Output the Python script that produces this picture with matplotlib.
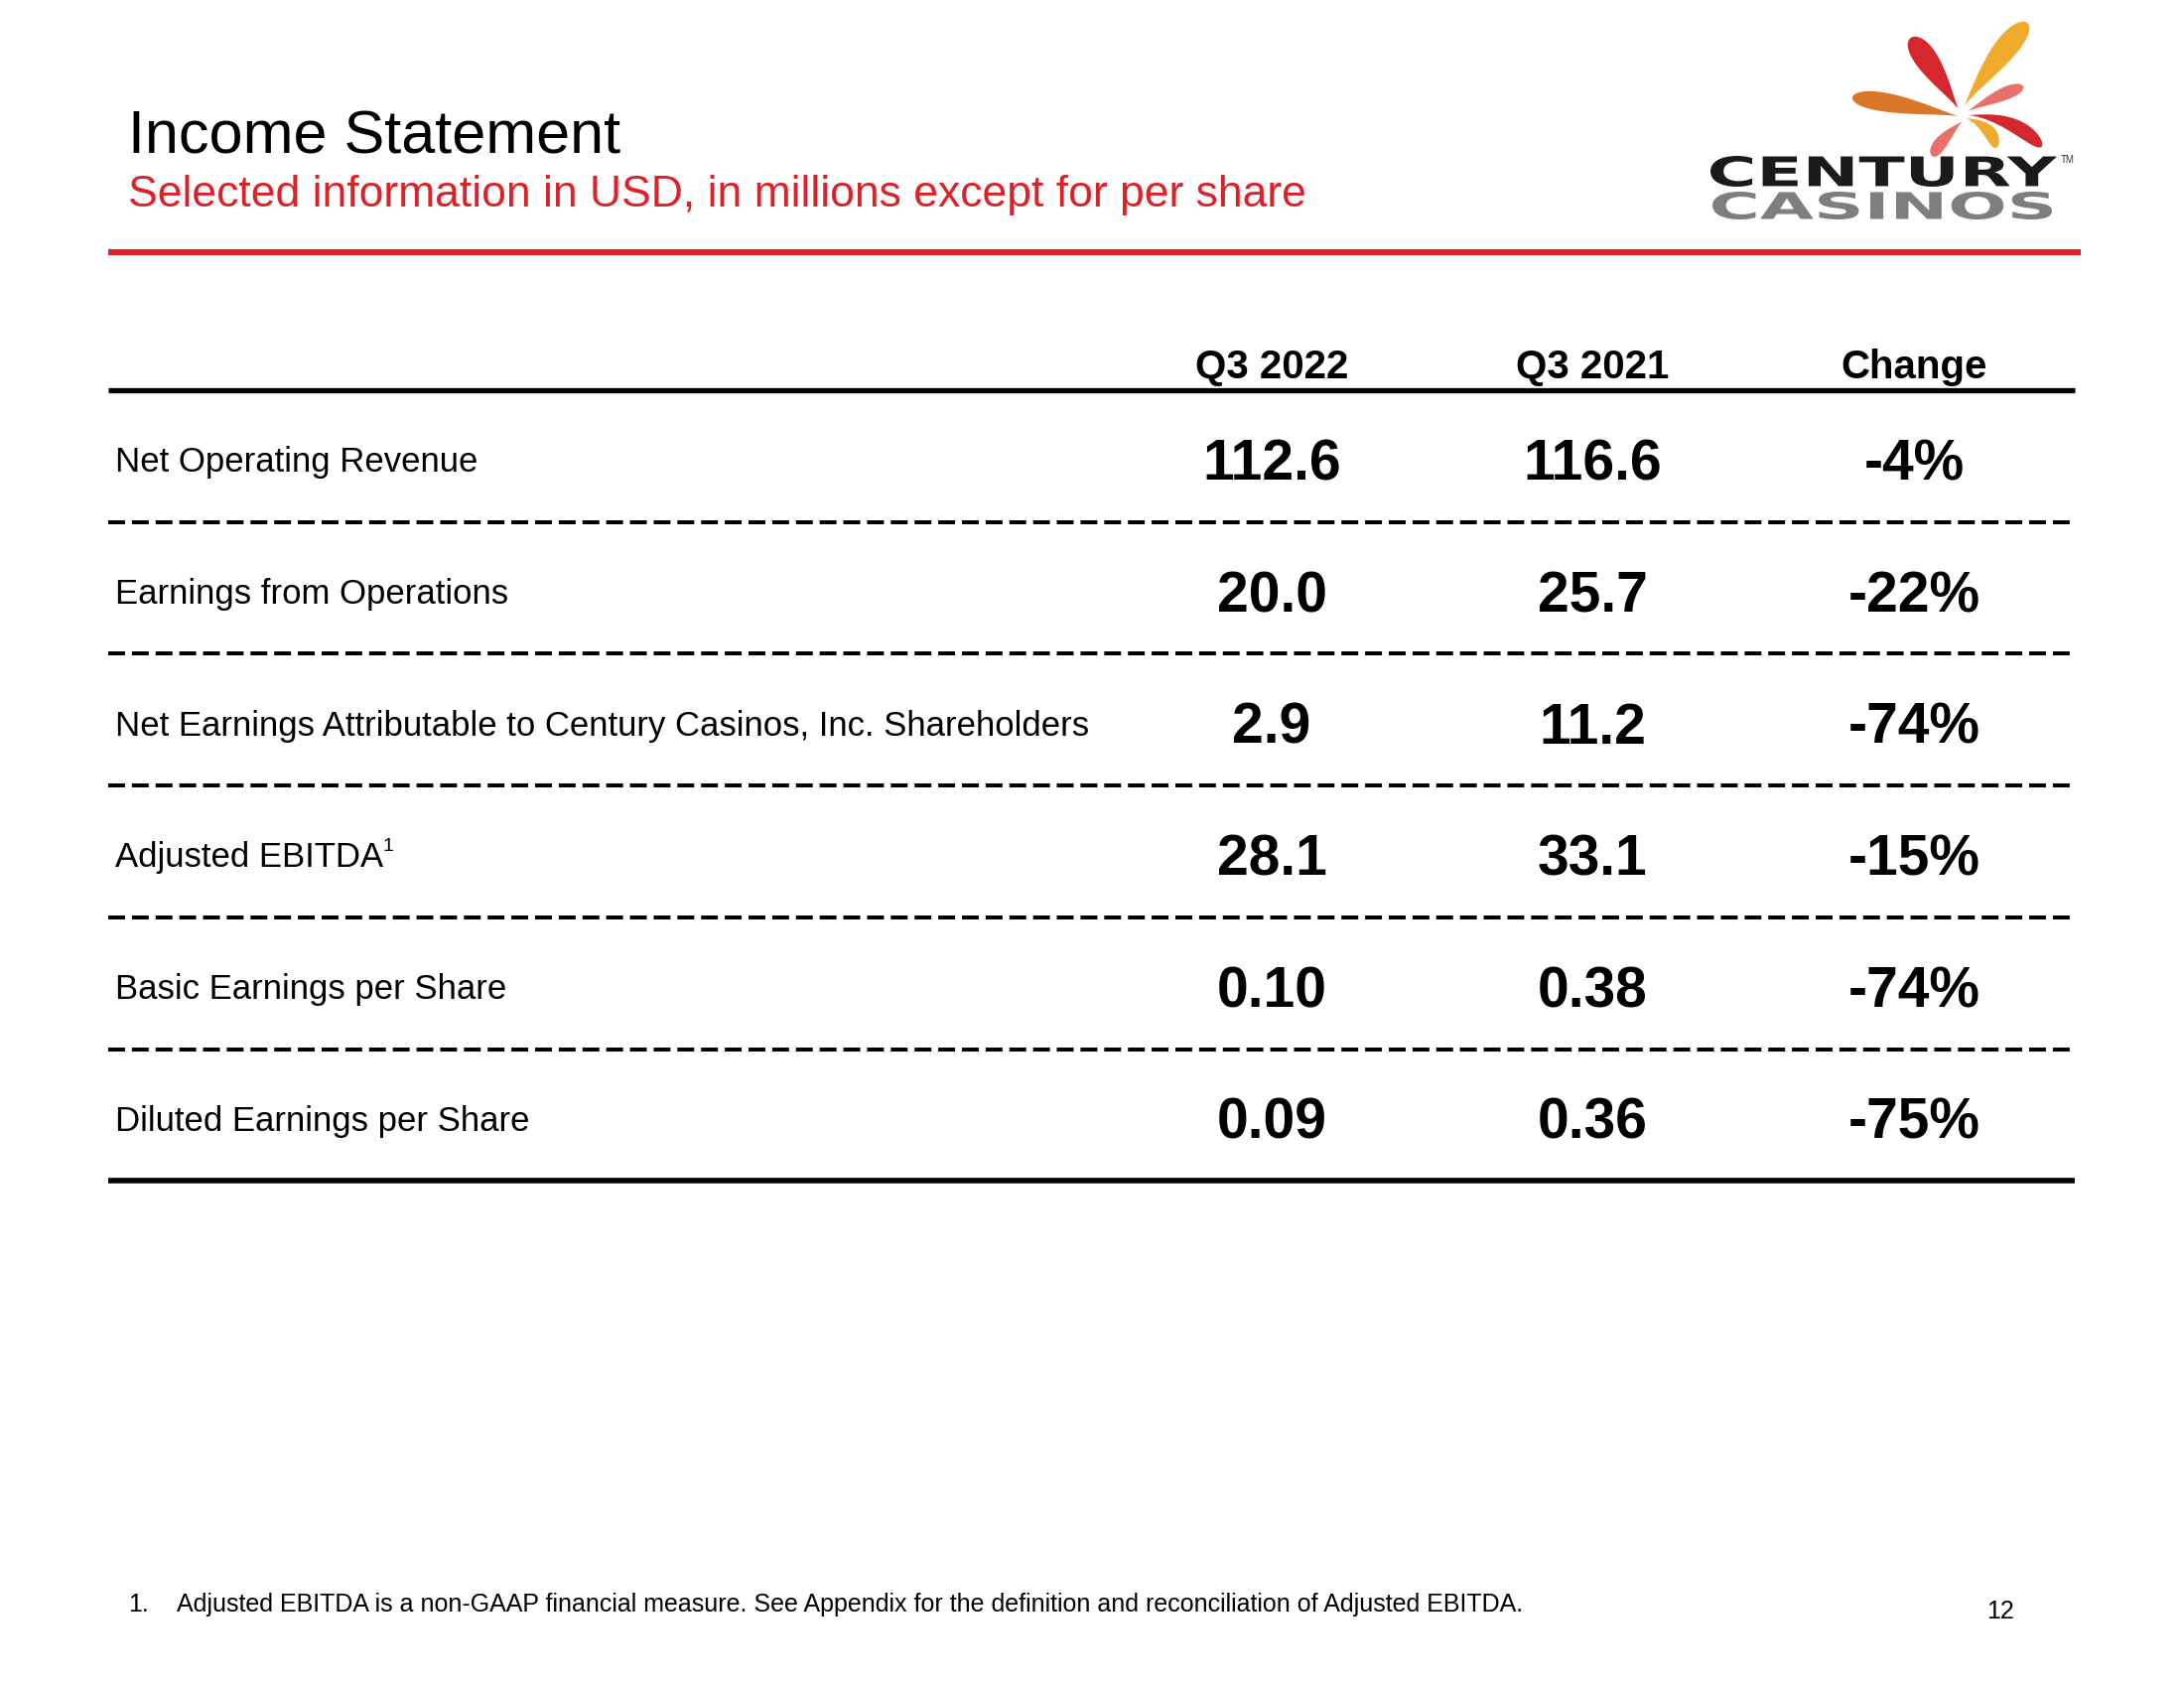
import numpy as np
import matplotlib
matplotlib.use("Agg")
import matplotlib.pyplot as plt
from matplotlib.patches import Polygon, PathPatch
from matplotlib.textpath import TextPath
from matplotlib.font_manager import FontProperties
from matplotlib.transforms import Affine2D

plt.rcParams['font.family'] = ['Liberation Sans', 'DejaVu Sans']
plt.rcParams['lines.scale_dashes'] = False

# data
row_labels = [
    "Net Operating Revenue",
    "Earnings from Operations",
    "Net Earnings Attributable to Century Casinos, Inc. Shareholders",
    "Adjusted EBITDA",
    "Basic Earnings per Share",
    "Diluted Earnings per Share",
]
label_notes = ["", "", "", "1", "", ""]
col_headers = ["Q3 2022", "Q3 2021", "Change"]
q3_2022 = [112.6, 20.0, 2.9, 28.1, 0.10, 0.09]
q3_2021 = [116.6, 25.7, 11.2, 33.1, 0.38, 0.36]
change_pct = [-4, -22, -74, -15, -74, -75]
decimals = [1, 1, 1, 1, 2, 2]

title = "Income Statement"
subtitle = "Selected information in USD, in millions except for per share"
footnote = "Adjusted EBITDA is a non-GAAP financial measure. See Appendix for the definition and reconciliation of Adjusted EBITDA."
page_no = "12"

RED = "#DC2129"

fig = plt.figure(figsize=(11, 8.5), dpi=200)
ax = fig.add_axes([0, 0, 1, 1])
ax.set_xlim(0, 2200)
ax.set_ylim(1700, 0)
ax.axis("off")

# header
ax.text(129, 154, title, fontsize=22, color="black", va="baseline")
ax.text(129, 208, subtitle, fontsize=16, color=RED, va="baseline")
ax.plot([109, 2096], [254, 254], color=RED, lw=2.2, solid_capstyle="butt")


# logo
def petal(tip, end, width, color, bend=0.0, m=1.6):
    tip = np.array(tip, float)
    end = np.array(end, float)
    d = end - tip
    L = np.hypot(*d)
    u = d / L
    n = np.array([-u[1], u[0]])
    th = np.linspace(0, 2 * np.pi, 200)
    s = (1 - np.cos(th)) / 2
    hw = np.sin(th) * np.sin(th / 2) ** m
    hw = hw / np.abs(hw).max() * width / 2
    centre = tip[None, :] + s[:, None] * d[None, :] + n[None, :] * (bend * 4 * s * (1 - s))[:, None]
    pts = centre + n[None, :] * hw[:, None]
    ax.add_patch(Polygon(pts, closed=True, fc=color, ec="none"))


petal((1973, 110), (1925, 38), 23, "#D5282E", bend=1)
petal((1978, 107), (2042, 23), 23, "#F0AA2C", bend=-2)
petal((1973, 117), (1866, 98), 19, "#DA7628", bend=1)
petal((1982, 112), (2038, 87), 13, "#E9716C", bend=-1)
petal((1983, 116), (2057, 147), 15, "#D5282E", bend=-8)
petal((1980, 119), (2012, 148), 13, "#F0AA2C", bend=-6)
petal((1977, 122), (1946, 157), 13, "#E9716C", bend=2)


def logo_word(word, x0, x1, y_top, y_bot, color):
    fp = FontProperties(family="DejaVu Sans", weight="bold")
    tp = TextPath((0, 0), word, size=100, prop=fp)
    ext = tp.get_extents()
    tr = (Affine2D().translate(-ext.x0, -ext.y0)
          .scale((x1 - x0) / ext.width, -(y_bot - y_top) / ext.height)
          .translate(x0, y_bot))
    ax.add_patch(PathPatch(tr.transform_path(tp), fc=color, ec="none"))


logo_word("CENTURY", 1723, 2072, 157, 188, "#1A1A1A")
logo_word("CASINOS", 1725, 2067, 193, 221, "#7E7E7E")
ax.text(2076, 164, "TM", fontsize=3.5, color="#333333", va="baseline")

# table
x_label = 116
col_x = [1281, 1604, 1928]
row_top0 = 393
row_h = 132.7

for cx, h in zip(col_x, col_headers):
    ax.text(cx, 381, h, fontsize=14.5, fontweight="bold", ha="center", va="baseline")

line_x = [109, 2090]
ax.plot(line_x, [row_top0, row_top0], color="black", lw=1.9, solid_capstyle="butt")

fig.canvas.draw()
renderer = fig.canvas.get_renderer()

for i, lab in enumerate(row_labels):
    yc = row_top0 + 70 + i * row_h
    t = ax.text(x_label, yc + 12.4, lab, fontsize=12.5, va="baseline")
    if label_notes[i]:
        bb = t.get_window_extent(renderer)
        xr = ax.transData.inverted().transform((bb.x1, bb.y0))[0]
        ax.text(xr - 1, yc - 4, label_notes[i], fontsize=7, va="baseline")
    fmt = "{:.%df}" % decimals[i]
    vals = [fmt.format(q3_2022[i]), fmt.format(q3_2021[i]), "{:d}%".format(change_pct[i])]
    for cx, v in zip(col_x, vals):
        ax.text(cx, yc + 20.4, v, fontsize=20.5, fontweight="bold", ha="center", va="baseline")
    y_line = row_top0 + (i + 1) * row_h
    if i < len(row_labels) - 1:
        ax.plot(line_x, [y_line, y_line], color="black", lw=1.45,
                linestyle=(0, (6.1, 2.5)), dash_capstyle="butt")
    else:
        ax.plot(line_x, [y_line, y_line], color="black", lw=2.0, solid_capstyle="butt")

# footnote and page number
ax.text(129, 1623, "1.", fontsize=9, va="baseline")
ax.text(178, 1623, footnote, fontsize=9, va="baseline")
ax.text(2015, 1630, page_no, fontsize=9, ha="center", va="baseline")

fig.savefig("out.png", dpi=200, facecolor="white")
